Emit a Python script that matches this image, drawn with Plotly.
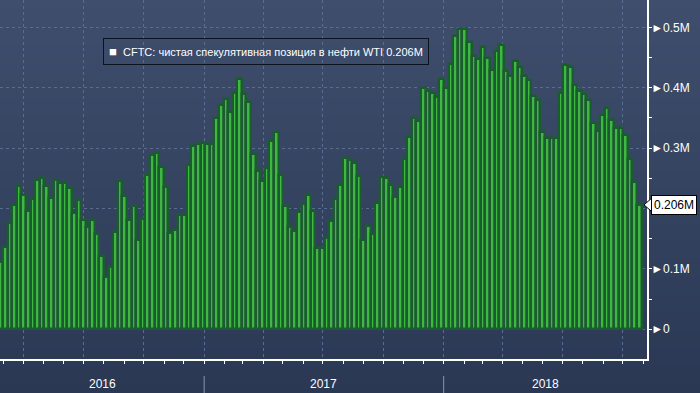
import base64
import struct
import zlib

import pandas as pd
import plotly.graph_objects as go

# ---------------- data ----------------
week_start = "2016-02-26"
week_end = "2018-10-26"
weeks = pd.date_range(week_start, week_end, freq="7D")

net_long_m = [
    0.111, 0.136, 0.176, 0.206, 0.238, 0.222, 0.196, 0.216, 0.248, 0.250,
    0.238, 0.218, 0.247, 0.243, 0.243, 0.234, 0.193, 0.214, 0.181, 0.169,
    0.181, 0.158, 0.121, 0.086, 0.103, 0.161, 0.246, 0.221, 0.181, 0.204,
    0.148, 0.183, 0.256, 0.289, 0.292, 0.269, 0.236, 0.159, 0.164, 0.189,
    0.189, 0.272, 0.304, 0.307, 0.309, 0.306, 0.307, 0.350, 0.372, 0.382,
    0.360, 0.392, 0.415, 0.389, 0.377, 0.291, 0.262, 0.246, 0.267, 0.311,
    0.326, 0.256, 0.204, 0.169, 0.163, 0.194, 0.208, 0.223, 0.196, 0.135,
    0.135, 0.151, 0.179, 0.216, 0.239, 0.284, 0.281, 0.276, 0.254, 0.148,
    0.171, 0.158, 0.209, 0.252, 0.251, 0.239, 0.219, 0.236, 0.282, 0.319,
    0.350, 0.345, 0.399, 0.394, 0.392, 0.385, 0.414, 0.399, 0.440, 0.485,
    0.498, 0.498, 0.475, 0.453, 0.447, 0.468, 0.449, 0.429, 0.460, 0.470,
    0.427, 0.420, 0.445, 0.435, 0.420, 0.412, 0.387, 0.379, 0.326, 0.316,
    0.317, 0.316, 0.392, 0.437, 0.435, 0.404, 0.394, 0.389, 0.380, 0.342,
    0.329, 0.354, 0.367, 0.347, 0.334, 0.334, 0.321, 0.282, 0.244, 0.206,
]

y_tick_vals = [0, 0.1, 0.2, 0.3, 0.4, 0.5]
y_tick_text = ["►0", "►0.1M", "", "►0.3M", "►0.4M", "►0.5M"]
years = ["2016", "2017", "2018"]
legend_text = "CFTC: чистая спекулятивная позиция в нефти WTI 0.206M"
last_label = "0.206M"

x_range = ["2016-02-24 22:00", "2018-11-06 19:00"]
y_range = [-0.0492, 0.5452]

FONT = "Liberation Sans Narrow, Arial Narrow, Liberation Sans, Arial, sans-serif"


def gradient_png(h, top, bottom):
    rows = b""
    for i in range(h):
        t = i / (h - 1)
        c = [round(top[k] + (bottom[k] - top[k]) * t) for k in range(3)]
        rows += b"\x00" + bytes(c)

    def chunk(tag, data):
        return (struct.pack(">I", len(data)) + tag + data
                + struct.pack(">I", zlib.crc32(tag + data) & 0xFFFFFFFF))

    png = (b"\x89PNG\r\n\x1a\n"
           + chunk(b"IHDR", struct.pack(">IIBBBBB", 1, h, 8, 2, 0, 0, 0))
           + chunk(b"IDAT", zlib.compress(rows))
           + chunk(b"IEND", b""))
    return "data:image/png;base64," + base64.b64encode(png).decode()


W, H = 700, 393
ML, MR, MT, MB = 0, 53, 0, 34
PW, PH = W - ML - MR, H - MT - MB

fig = go.Figure()
fig.add_trace(go.Bar(
    x=weeks, y=net_long_m,
    width=7 * 86400000,
    marker=dict(color="#41b743", line=dict(color="#1a5c30", width=2.5)),
    hoverinfo="x+y",
))

grid_c = "#5a6d90"
fig.update_layout(
    width=W, height=H,
    margin=dict(l=ML, r=MR, t=MT, b=MB),
    paper_bgcolor="#33425f",
    plot_bgcolor="rgba(0,0,0,0)",
    showlegend=False,
    bargap=0,
    font=dict(family=FONT, color="white", size=12),
    images=[dict(
        source=gradient_png(H, (62, 78, 108), (42, 56, 84)),
        xref="paper", yref="paper", x=0, y=1,
        sizex=W / PW, sizey=H / PH,
        xanchor="left", yanchor="top", sizing="stretch", layer="below",
    )],
    xaxis=dict(
        type="date", range=x_range,
        showline=True, linecolor="white", linewidth=1.5,
        ticks="outside", ticklen=3, tickcolor="white", tickwidth=1,
        dtick="M3", tick0="2016-01-01",
        showticklabels=False,
        showgrid=True, gridcolor=grid_c, griddash="3px,3px", gridwidth=1,
        minor=dict(dtick="M1", tick0="2016-01-01", ticks="outside",
                   ticklen=3, tickcolor="white", showgrid=False),
        zeroline=False, fixedrange=True,
    ),
    yaxis=dict(
        side="right", range=y_range,
        tickvals=y_tick_vals, ticktext=y_tick_text,
        ticks="", showline=True, linecolor="white", linewidth=1.5,
        tickfont=dict(color="white", size=12, family=FONT),
        showgrid=True, gridcolor=grid_c, griddash="3px,3px", gridwidth=1,
        minor=dict(dtick=0.05, tick0=0, ticks="outside", ticklen=3,
                   tickcolor="white", showgrid=False),
        zeroline=False, fixedrange=True,
    ),
)

# year labels and dividers under the axis
start = pd.Timestamp(x_range[0])
end = pd.Timestamp(x_range[1])
bounds = [start, pd.Timestamp("2017-01-01"), pd.Timestamp("2018-01-01"), end]
for i, yr in enumerate(years):
    mid = bounds[i] + (bounds[i + 1] - bounds[i]) / 2
    fig.add_annotation(x=mid, xref="x", y=-(384 - PH) / PH, yref="paper",
                       text=yr, showarrow=False, yanchor="middle",
                       font=dict(color="white", size=12, family=FONT))
for b in bounds[1:3]:
    fig.add_shape(type="line", x0=b, x1=b, xref="x",
                  y0=-(376 - PH) / PH, y1=-(H - PH) / PH, yref="paper",
                  line=dict(color="#8a96ad", width=1))

# legend box
fig.add_annotation(
    x=103 / PW, xref="paper", y=1 - 38 / PH, yref="paper",
    xanchor="left", yanchor="top", showarrow=False,
    text="<span style='font-size:13px'>■</span>  " + legend_text,
    font=dict(color="white", size=11, family=FONT),
    bgcolor="rgba(0,0,0,0)", bordercolor="#0c1320", borderwidth=1, borderpad=5,
)

# last value label
last_val = net_long_m[-1]
dy = 0.0115
fig.add_shape(type="path", xref="paper", yref="y",
              path=f"M {644 / PW} {last_val} L {652 / PW} {last_val + dy} "
                   f"L {652 / PW} {last_val - dy} Z",
              fillcolor="white", line=dict(color="black", width=1))
fig.add_annotation(
    x=651 / PW, xref="paper", y=last_val, yref="y",
    xanchor="left", yanchor="middle", showarrow=False,
    text=last_label, font=dict(color="black", size=12, family=FONT),
    bgcolor="white", bordercolor="black", borderwidth=1, borderpad=2,
)

fig.write_html(
    "out.html",
    config={"displayModeBar": False, "staticPlot": False},
    post_script="document.body.style.margin='0';"
                "document.body.style.overflow='hidden';",
)
